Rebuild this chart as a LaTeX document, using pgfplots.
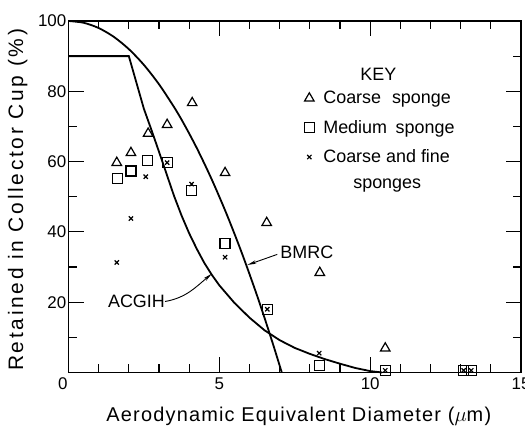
\documentclass[border=0pt]{standalone}
\usepackage{pgfplots}
\pgfplotsset{compat=1.18}
\usepackage{fontspec}
\setmainfont{Liberation Sans}
\usetikzlibrary{arrows.meta}

\begin{document}
\begin{tikzpicture}
\useasboundingbox (0,0) rectangle (525bp,432bp);
\begin{axis}[
  at={(68.5bp,59.5bp)}, anchor=south west,
  scale only axis, width=452.5bp, height=351.5bp,
  xmin=0, xmax=15, ymin=0, ymax=100,
  xtick={0,5,10,15}, xticklabels={\makebox[0pt][r]{0\hspace{1bp}},5,10,15}, minor x tick num=4,
  ytick={0,20,40,60,80,100}, yticklabels={,20,40,60,80,100}, minor y tick num=1,
  tick align=inside,
  major tick length=15bp, minor tick length=8bp,
  axis line style={line width=1.5bp},
  tick style={line width=1.2bp, black},
  /pgf/number format/assume math mode=true,
  ticklabel style={font=\fontsize{17}{20}\selectfont},
  yticklabel style={inner sep=2bp},
  xticklabel style={yshift=-2bp},
  xlabel={Aerodynamic Equivalent Diameter ($\mu$m)},
  ylabel={Retained in Collector Cup (\%)},
  xlabel style={at={(axis description cs:0.509,-0.124)}, anchor=center, font=\fontsize{20}{23}\selectfont\addfontfeature{LetterSpace=6}},
  ylabel style={at={(axis description cs:-0.112,0.491)}, anchor=center, font=\fontsize{21}{24}\selectfont\addfontfeature{LetterSpace=13}},
  clip=false,
  legend style={draw=none, fill=none, at={(rel axis cs:0.513,0.822)}, anchor=north west, font=\fontsize{18}{21}\selectfont, inner sep=0pt, nodes={inner xsep=4bp, inner ysep=7.5bp}, row sep=0pt, column sep=5bp},
  legend cell align=left,
]
% Coarse sponge
\addplot[only marks, mark=triangle, mark size=5.5bp, mark options={line width=1.2bp, black}] coordinates {
(1.6,59.7) (2.07,62.5) (2.64,68) (3.27,70.5) (4.1,76.7) (5.19,56.8) (6.57,42.6) (8.33,28.4) (10.5,6.9)
};
\addlegendentry{Coarse\hspace{0.33em} sponge}
% Medium sponge
\addplot[only marks, mark=square, mark size=5bp, mark options={line width=1.2bp, black}] coordinates {
(1.62,55.2) (2.07,57.3) (2.62,60.4) (3.27,59.7) (4.09,51.7) (5.19,36.6) (6.59,18) (8.33,1.9) (10.5,0.6) (13.1,0.6) (13.35,0.6)
};
\addlegendentry{Medium\hspace{0.2em} sponge}
% Coarse and fine sponges
\addplot[only marks, mark=x, mark size=3bp, mark options={line width=1.2bp, black}] coordinates {
(1.6,31.3) (2.07,43.8) (2.56,55.7) (3.27,59.7) (4.08,53.6) (5.19,32.8) (6.59,18) (8.31,5.5) (10.5,0.6) (13.1,0.6) (13.35,0.6)
};
\addlegendentry{Coarse and fine}
\addlegendimage{empty legend}
\addlegendentry{\hspace*{30bp}sponges}
% BMRC
\addplot[line width=1.8bp, smooth, black, forget plot] coordinates {
(0,100) (0.5,99.5) (1,98) (1.5,95.5) (2,92) (2.5,87.5) (3,82) (3.5,75.5) (3.75,71.9) (4,68) (4.25,63.9) (4.5,59.5) (4.75,54.9) (5,50) (5.25,44.9) (5.5,39.5) (5.75,33.9) (6,28) (6.25,21.9) (6.5,15.5) (6.8,7.5) (7.07,0)
};
% ACGIH
\addplot[line width=1.8bp, black, forget plot] coordinates {
(0,90) (2,90) (2.5,75) (2.75,69) (3,62.8) (3.25,56.5) (3.5,50.2) (3.75,44.6) (4,39.6) (4.25,35.2) (4.5,31.2) (4.75,27.8) (5,24.8) (5.5,19.8) (6,15.6) (6.5,12) (7,9.2) (7.5,7) (8,5.3) (8.5,3.8) (9,2.5) (9.5,1.3) (10,0.4) (10.4,0)
};
\node[font=\fontsize{18}{21}\selectfont] at (axis cs:10.27,84.8) {KEY};
\node[font=\fontsize{18}{21}\selectfont, anchor=west, inner sep=0pt] at (axis cs:7.02,34.3) {BMRC};
\draw[line width=0.9bp, -{Stealth[length=9bp,width=3.5bp]}] (axis cs:6.92,33.6) -- (axis cs:5.93,30.6);
\node[font=\fontsize{18}{21}\selectfont, anchor=east, inner sep=0pt] at (axis cs:3.2,20.2) {ACGIH};
\draw[line width=0.9bp, -{Stealth[length=9bp,width=3.5bp]}] (axis cs:3.2,20.2) to[out=10,in=220] (axis cs:4.75,28.1);
\end{axis}
\end{tikzpicture}
\end{document}
